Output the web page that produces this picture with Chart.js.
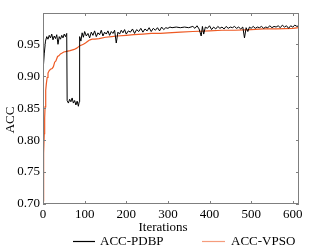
<!DOCTYPE html>
<html><head><meta charset="utf-8">
<script src="https://cdn.jsdelivr.net/npm/chart.js@4"></script>
<style>html,body{margin:0;padding:0;background:#fff;}#wrap{width:309px;height:249px;}</style>
</head><body><div id="wrap"><canvas id="c" width="309" height="249"></canvas></div>
<script>
const xTicks = [0,100,200,300,400,500,600];
const yTicks = [0.70,0.75,0.80,0.85,0.90,0.95];
const seriesNames = ['ACC-PDBP','ACC-VPSO'];
const xTitle = 'Iterations';
const yTitle = 'ACC';

const pdbpX = [0,3,6,9,12,15,18,21,24,27,30,33,36,39,42,45,48,51,54,57,58,61,64,67,70,73,76,79,82,85,87,88,91,94,97,100,104,108,112,116,120,124,128,132,136,140,144,148,152,156,160,164,168,172,176,180,184,188,192,196,200,205,210,215,220,225,230,235,240,245,250,255,260,265,270,275,280,285,290,295,300,305,310,320,330,340,350,360,365,370,375,380,383,386,390,395,400,405,410,415,420,425,430,435,440,445,450,455,460,465,470,475,480,484,488,492,496,500,505,510,515,520,525,530,535,540,545,550,555,560,565,570,575,580,585,590,595,600,605,610,615];
const pdbpY = [0.907,0.935,0.955,0.962,0.958,0.964,0.960,0.966,0.957,0.963,0.959,0.965,0.950,0.962,0.958,0.964,0.960,0.966,0.962,0.967,0.862,0.858,0.864,0.860,0.866,0.858,0.862,0.855,0.861,0.853,0.860,0.962,0.955,0.968,0.961,0.970,0.963,0.967,0.960,0.969,0.964,0.971,0.962,0.968,0.965,0.972,0.963,0.969,0.966,0.971,0.964,0.970,0.967,0.972,0.952,0.969,0.966,0.972,0.968,0.973,0.966,0.971,0.969,0.974,0.967,0.973,0.970,0.975,0.969,0.974,0.971,0.976,0.970,0.975,0.972,0.976,0.971,0.977,0.973,0.976,0.975,0.977,0.976,0.977,0.976,0.977,0.976,0.978,0.975,0.979,0.974,0.963,0.978,0.966,0.977,0.975,0.979,0.973,0.977,0.974,0.978,0.975,0.977,0.974,0.978,0.975,0.977,0.976,0.978,0.975,0.977,0.974,0.977,0.960,0.976,0.970,0.977,0.975,0.978,0.975,0.977,0.976,0.978,0.975,0.977,0.976,0.979,0.976,0.978,0.977,0.979,0.976,0.980,0.977,0.979,0.975,0.979,0.977,0.980,0.978,0.979];

const vpsoX = [0,1,2,3,4,5,6,7,8,10,12,15,18,22,25,28,31,35,38,42,45,50,57,65,75,81,85,89,93,97,102,106,110,113,118,125,135,150,165,178,200,218,240,260,282,300,330,360,400,430,460,500,530,560,600,615];
const vpsoY = [0.705,0.740,0.780,0.810,0.835,0.852,0.866,0.878,0.888,0.898,0.905,0.909,0.911,0.912,0.915,0.922,0.924,0.931,0.932,0.935,0.936,0.938,0.939,0.940,0.942,0.944,0.946,0.948,0.949,0.950,0.952,0.954,0.956,0.957,0.958,0.958,0.959,0.961,0.962,0.963,0.964,0.965,0.966,0.967,0.967,0.968,0.969,0.970,0.971,0.972,0.972,0.973,0.974,0.974,0.975,0.976];

const colors = ['#000000','#EE5A24'];
const frameColor = '#7f7f7f';
const FONT = 'Liberation Serif';

Chart.defaults.font.family = FONT;
Chart.defaults.font.size = 13;
Chart.defaults.color = '#000';

const framePlugin = {
  id: 'frame',
  afterDraw(chart) {
    const ctx = chart.ctx, a = chart.chartArea;
    const xs = chart.scales.x, ys = chart.scales.y;
    ctx.save();
    ctx.strokeStyle = frameColor;
    ctx.lineWidth = 1;
    ctx.strokeRect(a.left + 0.5, a.top + 0.5, a.right - a.left - 1, a.bottom - a.top - 1);
    ctx.beginPath();
    const tl = 3;
    xTicks.forEach(v => {
      const px = Math.round(xs.getPixelForValue(v)) + 0.5;
      ctx.moveTo(px, a.bottom); ctx.lineTo(px, a.bottom - tl);
      ctx.moveTo(px, a.top); ctx.lineTo(px, a.top + tl);
    });
    yTicks.forEach(v => {
      const py = Math.round(ys.getPixelForValue(v)) + 0.5;
      ctx.moveTo(a.left, py); ctx.lineTo(a.left + tl, py);
      ctx.moveTo(a.right, py); ctx.lineTo(a.right - tl, py);
    });
    ctx.stroke();
    // titles
    ctx.fillStyle = '#000';
    ctx.font = '13px "' + FONT + '"';
    ctx.textAlign = 'center';
    ctx.textBaseline = 'middle';
    ctx.fillText(xTitle, 163, 228);
    ctx.save();
    ctx.translate(11, 120);
    ctx.rotate(-Math.PI / 2);
    ctx.fillText(yTitle, 0, 0);
    ctx.restore();
    // legend
    const items = [{x0: 73, x1: 95, tx: 100}, {x0: 202, x1: 225, tx: 231}];
    chart.data.datasets.forEach((ds, i) => {
      const it = items[i];
      ctx.strokeStyle = ds.borderColor;
      ctx.globalAlpha = i === 1 ? 0.6 : 1;
      ctx.lineWidth = 1.2;
      ctx.beginPath();
      ctx.moveTo(it.x0, 241.5); ctx.lineTo(it.x1, 241.5);
      ctx.stroke();
      ctx.globalAlpha = 1;
      ctx.textAlign = 'left';
      ctx.fillText(ds.label, it.tx, 242);
    });
    ctx.restore();
  }
};

new Chart(document.getElementById('c'), {
  type: 'line',
  data: {
    datasets: [
      { label: seriesNames[0], data: pdbpX.map((x, i) => ({x, y: pdbpY[i]})), borderColor: colors[0], borderWidth: 1, pointRadius: 0, tension: 0, fill: false },
      { label: seriesNames[1], data: vpsoX.map((x, i) => ({x, y: vpsoY[i]})), borderColor: colors[1], borderWidth: 1.2, pointRadius: 0, tension: 0, fill: false }
    ]
  },
  options: {
    responsive: false,
    animation: false,
    devicePixelRatio: 1,
    layout: { padding: { left: 0, top: 13, right: 10, bottom: 0 } },
    plugins: { legend: { display: false }, tooltip: { enabled: false } },
    scales: {
      x: {
        type: 'linear', min: 0, max: 615,
        afterBuildTicks: s => { s.ticks = xTicks.map(v => ({value: v})); },
        afterFit: s => { s.height = 45; },
        grid: { display: false, drawTicks: false },
        border: { display: false },
        ticks: { padding: 3, maxRotation: 0, autoSkip: false, font: { size: 13 }, callback: v => String(v) }
      },
      y: {
        type: 'linear', min: 0.70, max: 0.999,
        afterBuildTicks: s => { s.ticks = yTicks.map(v => ({value: v})); },
        afterFit: s => { s.width = 43; },
        grid: { display: false, drawTicks: false },
        border: { display: false },
        ticks: { padding: 3, font: { size: 13 }, callback: v => v.toFixed(2) }
      }
    }
  },
  plugins: [framePlugin]
});
</script>
</body></html>
